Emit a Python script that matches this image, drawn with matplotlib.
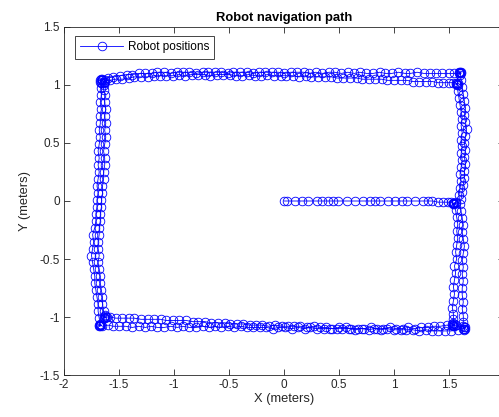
import matplotlib
matplotlib.use('Agg')
import matplotlib.pyplot as plt
import numpy as np

plt.rcParams['font.family'] = ['Liberation Sans', 'DejaVu Sans']

# --- path segments, (x, y) in meters ---
start_leg = [(0.00, 0.00), (0.03, 0.00), (0.10, 0.00), (0.16, 0.00), (0.22, 0.00), (0.30, 0.00),
             (0.35, 0.00), (0.40, 0.00), (0.45, 0.00), (0.49, 0.00), (0.57, 0.00), (0.65, 0.00),
             (0.72, 0.00), (0.78, 0.00), (0.83, 0.00), (0.87, 0.00), (0.95, 0.00), (1.01, 0.00),
             (1.07, 0.00), (1.12, 0.00), (1.19, 0.00), (1.26, 0.00), (1.31, 0.00), (1.35, 0.00),
             (1.40, -0.01), (1.45, -0.01), (1.49, -0.01), (1.52, -0.01), (1.54, -0.02),
             (1.55, -0.02), (1.56, -0.01), (1.54, -0.03), (1.55, -0.03), (1.56, -0.02),
             (1.54, -0.02)]

# lap 1
right1 = [(1.56, -0.08), (1.57, -0.14), (1.58, -0.20), (1.57, -0.26), (1.58, -0.32), (1.57, -0.38),
          (1.56, -0.44), (1.57, -0.50), (1.55, -0.56), (1.56, -0.62), (1.55, -0.68), (1.54, -0.74),
          (1.55, -0.80), (1.54, -0.86), (1.53, -0.92), (1.54, -0.97), (1.54, -1.02)]
corner_br1 = [(1.54, -1.05), (1.55, -1.06), (1.53, -1.07), (1.55, -1.08), (1.54, -1.07),
              (1.56, -1.07), (1.53, -1.06), (1.54, -1.08)]
bottom1 = [(1.48, -1.07), (1.42, -1.08), (1.36, -1.08), (1.31, -1.09), (1.25, -1.09), (1.19, -1.10),
           (1.13, -1.09), (1.08, -1.10), (1.02, -1.10), (0.96, -1.09), (0.90, -1.10), (0.85, -1.10),
           (0.79, -1.09), (0.73, -1.10), (0.67, -1.10), (0.61, -1.10), (0.56, -1.09), (0.50, -1.09),
           (0.44, -1.10), (0.38, -1.09), (0.33, -1.09), (0.27, -1.08), (0.21, -1.09), (0.15, -1.08),
           (0.09, -1.08), (0.04, -1.08), (-0.02, -1.08), (-0.08, -1.07), (-0.14, -1.08),
           (-0.20, -1.07), (-0.25, -1.07), (-0.31, -1.07), (-0.37, -1.06), (-0.43, -1.06),
           (-0.49, -1.06), (-0.54, -1.05), (-0.60, -1.05), (-0.66, -1.05), (-0.72, -1.04),
           (-0.78, -1.04), (-0.83, -1.04), (-0.89, -1.03), (-0.95, -1.03), (-1.01, -1.03),
           (-1.07, -1.03), (-1.12, -1.02), (-1.18, -1.02), (-1.24, -1.02), (-1.30, -1.02),
           (-1.36, -1.01), (-1.41, -1.01), (-1.47, -1.01), (-1.53, -1.01), (-1.58, -1.00)]
corner_bl1 = [(-1.61, -1.00), (-1.63, -1.01), (-1.64, -1.00), (-1.63, -0.99), (-1.62, -1.00),
              (-1.64, -1.01), (-1.63, -0.98)]
left1 = [(-1.64, -0.95), (-1.65, -0.89), (-1.65, -0.83), (-1.66, -0.77), (-1.67, -0.71),
         (-1.67, -0.65), (-1.68, -0.59), (-1.69, -0.53), (-1.68, -0.47), (-1.69, -0.41),
         (-1.69, -0.35), (-1.68, -0.29), (-1.68, -0.23), (-1.67, -0.17), (-1.67, -0.11),
         (-1.66, -0.05), (-1.66, 0.01), (-1.65, 0.07), (-1.65, 0.13), (-1.64, 0.19), (-1.64, 0.25),
         (-1.63, 0.31), (-1.63, 0.37), (-1.64, 0.43), (-1.63, 0.49), (-1.62, 0.55), (-1.63, 0.61),
         (-1.62, 0.67), (-1.63, 0.73), (-1.62, 0.79), (-1.63, 0.85), (-1.63, 0.91), (-1.64, 0.96)]
corner_tl1 = [(-1.64, 1.00), (-1.65, 1.02), (-1.64, 1.03), (-1.63, 1.03), (-1.65, 1.04),
              (-1.64, 1.02), (-1.63, 1.04)]
top1 = [(-1.58, 1.04), (-1.53, 1.05), (-1.47, 1.05), (-1.41, 1.06), (-1.36, 1.07), (-1.30, 1.07),
        (-1.24, 1.07), (-1.18, 1.08), (-1.13, 1.08), (-1.07, 1.08), (-1.01, 1.08), (-0.95, 1.09),
        (-0.90, 1.08), (-0.84, 1.09), (-0.78, 1.09), (-0.72, 1.09), (-0.67, 1.08), (-0.61, 1.09),
        (-0.55, 1.09), (-0.49, 1.09), (-0.44, 1.08), (-0.38, 1.08), (-0.32, 1.09), (-0.26, 1.08),
        (-0.21, 1.08), (-0.15, 1.09), (-0.09, 1.08), (-0.03, 1.08), (0.02, 1.08), (0.08, 1.08),
        (0.14, 1.07), (0.20, 1.08), (0.25, 1.07), (0.31, 1.07), (0.37, 1.07), (0.43, 1.07),
        (0.48, 1.06), (0.54, 1.06), (0.60, 1.06), (0.66, 1.06), (0.71, 1.05), (0.77, 1.05),
        (0.83, 1.05), (0.89, 1.05), (0.94, 1.04), (1.00, 1.04), (1.06, 1.04), (1.12, 1.04),
        (1.17, 1.03), (1.23, 1.03), (1.29, 1.03), (1.35, 1.03), (1.40, 1.02), (1.45, 1.02),
        (1.50, 1.02)]
corner_tr1 = [(1.54, 1.02), (1.56, 1.02), (1.57, 1.01), (1.58, 1.02), (1.57, 1.00), (1.56, 1.01),
              (1.58, 1.00)]
right1b = [(1.58, 0.95), (1.59, 0.89), (1.60, 0.83), (1.61, 0.77), (1.62, 0.71), (1.61, 0.65),
           (1.62, 0.59), (1.61, 0.53), (1.62, 0.47), (1.61, 0.41), (1.62, 0.35), (1.61, 0.29),
           (1.60, 0.23), (1.61, 0.17), (1.60, 0.11), (1.59, 0.05)]

# lap 2
right2 = [(1.60, -0.03), (1.61, -0.09), (1.62, -0.15), (1.63, -0.21), (1.62, -0.27), (1.63, -0.33),
          (1.64, -0.39), (1.63, -0.45), (1.62, -0.51), (1.63, -0.57), (1.62, -0.63), (1.63, -0.69),
          (1.62, -0.75), (1.62, -0.81), (1.63, -0.87), (1.62, -0.93), (1.63, -0.99), (1.63, -1.04)]
corner_br2 = [(1.63, -1.08), (1.64, -1.10), (1.65, -1.10), (1.64, -1.11), (1.63, -1.10),
              (1.65, -1.09), (1.64, -1.09)]
bottom2 = [(1.58, -1.11), (1.52, -1.12), (1.46, -1.12), (1.40, -1.12), (1.35, -1.12), (1.29, -1.11),
           (1.23, -1.12), (1.17, -1.11), (1.11, -1.11), (1.06, -1.11), (1.00, -1.11), (0.94, -1.10),
           (0.88, -1.11), (0.82, -1.10), (0.77, -1.11), (0.71, -1.10), (0.65, -1.11), (0.59, -1.10),
           (0.53, -1.10), (0.48, -1.10), (0.42, -1.10), (0.36, -1.10), (0.30, -1.10), (0.24, -1.09),
           (0.19, -1.10), (0.13, -1.09), (0.07, -1.10), (0.01, -1.09), (-0.05, -1.09),
           (-0.10, -1.10), (-0.16, -1.09), (-0.22, -1.09), (-0.28, -1.09), (-0.34, -1.09),
           (-0.39, -1.08), (-0.45, -1.09), (-0.51, -1.08), (-0.57, -1.09), (-0.63, -1.08),
           (-0.68, -1.09), (-0.74, -1.08), (-0.80, -1.09), (-0.86, -1.09), (-0.92, -1.08),
           (-0.97, -1.09), (-1.03, -1.08), (-1.09, -1.09), (-1.15, -1.09), (-1.21, -1.08),
           (-1.26, -1.09), (-1.32, -1.08), (-1.38, -1.09), (-1.44, -1.08), (-1.50, -1.08),
           (-1.55, -1.08), (-1.60, -1.07)]
corner_bl2 = [(-1.65, -1.08), (-1.67, -1.07), (-1.68, -1.08), (-1.67, -1.06), (-1.66, -1.07),
              (-1.68, -1.07), (-1.67, -1.08)]
left2 = [(-1.68, -1.01), (-1.69, -0.95), (-1.69, -0.89), (-1.70, -0.83), (-1.71, -0.77),
         (-1.72, -0.71), (-1.72, -0.65), (-1.73, -0.59), (-1.74, -0.53), (-1.75, -0.47),
         (-1.74, -0.41), (-1.73, -0.35), (-1.74, -0.29), (-1.72, -0.23), (-1.71, -0.17),
         (-1.71, -0.11), (-1.70, -0.05), (-1.70, 0.01), (-1.69, 0.07), (-1.70, 0.13), (-1.69, 0.19),
         (-1.68, 0.25), (-1.69, 0.31), (-1.68, 0.37), (-1.69, 0.43), (-1.68, 0.49), (-1.67, 0.55),
         (-1.68, 0.61), (-1.67, 0.67), (-1.67, 0.73), (-1.66, 0.79), (-1.67, 0.85), (-1.66, 0.91),
         (-1.66, 0.97)]
corner_tl2 = [(-1.66, 1.02), (-1.67, 1.04), (-1.66, 1.05), (-1.65, 1.04), (-1.67, 1.03),
              (-1.65, 1.05)]
top2 = [(-1.60, 1.06), (-1.55, 1.07), (-1.49, 1.08), (-1.43, 1.09), (-1.38, 1.09), (-1.32, 1.10),
        (-1.26, 1.10), (-1.20, 1.10), (-1.15, 1.11), (-1.09, 1.11), (-1.03, 1.10), (-0.97, 1.11),
        (-0.92, 1.11), (-0.86, 1.11), (-0.80, 1.10), (-0.74, 1.11), (-0.69, 1.11), (-0.63, 1.11),
        (-0.57, 1.11), (-0.51, 1.10), (-0.46, 1.11), (-0.40, 1.11), (-0.34, 1.11), (-0.28, 1.10),
        (-0.23, 1.11), (-0.17, 1.11), (-0.11, 1.11), (-0.05, 1.11), (0.00, 1.10), (0.06, 1.11),
        (0.12, 1.11), (0.18, 1.11), (0.23, 1.10), (0.29, 1.11), (0.35, 1.10), (0.41, 1.11),
        (0.46, 1.11), (0.52, 1.10), (0.58, 1.11), (0.64, 1.10), (0.69, 1.11), (0.75, 1.10),
        (0.81, 1.10), (0.87, 1.11), (0.92, 1.10), (0.98, 1.10), (1.04, 1.11), (1.10, 1.10),
        (1.15, 1.10), (1.21, 1.11), (1.27, 1.10), (1.33, 1.10), (1.38, 1.10), (1.44, 1.10),
        (1.50, 1.10), (1.55, 1.10)]
corner_tr2 = [(1.59, 1.10), (1.60, 1.11), (1.61, 1.10), (1.60, 1.09), (1.59, 1.11), (1.61, 1.11),
              (1.60, 1.10)]
right2b = [(1.61, 1.04), (1.62, 0.98), (1.63, 0.92), (1.64, 0.86), (1.65, 0.80), (1.64, 0.74),
           (1.65, 0.68), (1.66, 0.62), (1.65, 0.56), (1.64, 0.50), (1.65, 0.44), (1.64, 0.38),
           (1.65, 0.32), (1.64, 0.26), (1.64, 0.20), (1.63, 0.14), (1.62, 0.08), (1.61, 0.02)]

path = (start_leg + right1 + corner_br1 + bottom1 + corner_bl1 + left1 + corner_tl1 + top1
        + corner_tr1 + right1b + right2 + corner_br2 + bottom2 + corner_bl2 + left2
        + corner_tl2 + top2 + corner_tr2 + right2b)
x = np.array([p[0] for p in path])
y = np.array([p[1] for p in path])

x_ticks = [-2, -1.5, -1, -0.5, 0, 0.5, 1, 1.5, 2]
x_labels = ['-2', '-1.5', '-1', '-0.5', '0', '0.5', '1', '1.5', '']
y_ticks = [-1.5, -1, -0.5, 0, 0.5, 1, 1.5]
y_labels = ['-1.5', '-1', '-0.5', '0', '0.5', '1', '1.5']

fig = plt.figure(figsize=(4.99, 4.17), dpi=100)
# axes run past the right edge of the picture, as in the original export
ax = fig.add_axes([64 / 499, 42 / 417, 440 / 499, 348 / 417])

ax.plot(x, y, '-o', color='blue', lw=0.6, ms=6.2, mfc='none', mew=0.6,
        label='Robot positions')

ax.set_xlim(-2, 2)
ax.set_ylim(-1.5, 1.5)
ax.set_xticks(x_ticks)
ax.set_xticklabels(x_labels)
ax.set_yticks(y_ticks)
ax.set_yticklabels(y_labels)
ax.tick_params(direction='in', length=4, width=0.6, top=True, right=True,
               labelsize=8.5, colors='#262626', pad=3)
for s in ax.spines.values():
    s.set_linewidth(0.6)
    s.set_color('#262626')

ax.set_xlabel('X (meters)', fontsize=9.3, color='#262626', labelpad=1)
ax.set_ylabel('Y (meters)', fontsize=9.3, color='#262626', labelpad=6)
ax.set_title('Robot navigation path', fontsize=9.4, fontweight='bold', pad=4)

leg = ax.legend(loc='upper left', bbox_to_anchor=(0.025, 0.974), borderaxespad=0,
                fontsize=8.5, handlelength=3.6, fancybox=False, framealpha=1,
                edgecolor='#262626', borderpad=0.45, handletextpad=0.4)
leg.get_frame().set_linewidth(0.6)

fig.savefig('out.png', dpi=100)
